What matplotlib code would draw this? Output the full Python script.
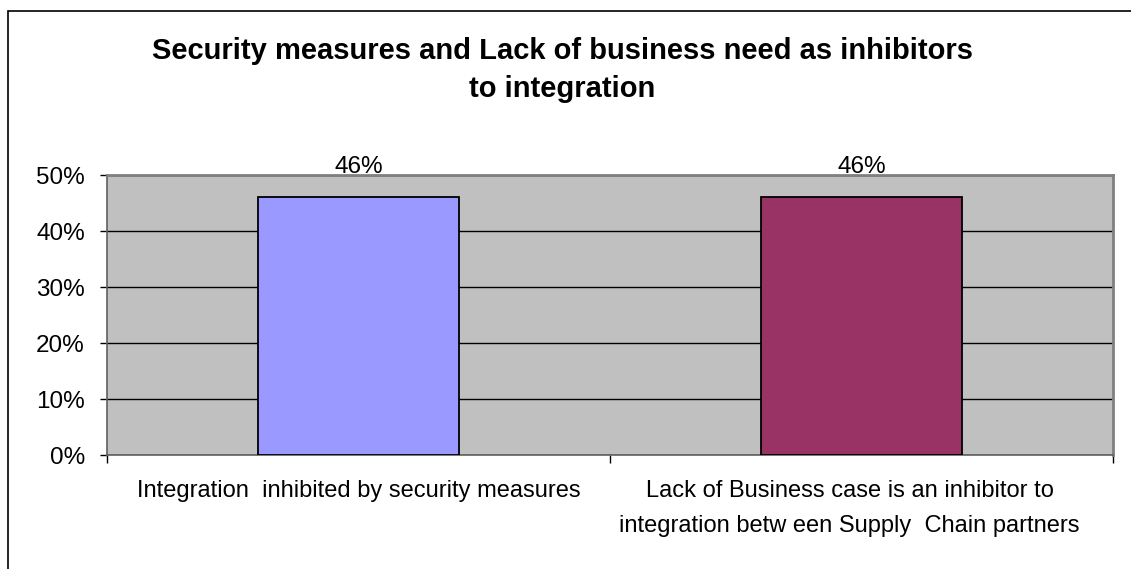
import matplotlib
matplotlib.use("Agg")
import matplotlib.pyplot as plt
from matplotlib.patches import Rectangle
from matplotlib.ticker import PercentFormatter
from matplotlib.transforms import ScaledTranslation

plt.rcParams['font.family'] = ['Liberation Sans', 'DejaVu Sans']

title = "Security measures and Lack of business need as inhibitors\nto integration"
categories = ["Integration  inhibited by security measures",
              "Lack of Business case is an inhibitor to\nintegration betw een Supply  Chain partners"]
values = [46, 46]
bar_colors = ["#9999FF", "#993366"]
yticks = [0, 10, 20, 30, 40, 50]

W, H = 1131, 569
fig = plt.figure(figsize=(W / 100, H / 100), dpi=100)
fig.patch.set_facecolor("white")

# figure border (left/top visible)
fig.add_artist(Rectangle((8 / W, -0.1), 1.2, (H - 11) / H + 0.1, transform=fig.transFigure,
                         fill=False, edgecolor="black", linewidth=1.2))

left, right, top, bottom = 107, 1113, 175, 455
ax = fig.add_axes([left / W, 1 - bottom / H, (right - left) / W, (bottom - top) / H])
ax.set_facecolor("#C0C0C0")

x = list(range(len(categories)))
ax.bar(x, values, width=0.4, color=bar_colors, edgecolor="black", linewidth=1.3, zorder=3)
for xi, v in zip(x, values):
    ax.text(xi, 51.5, f"{v}%", ha="center", va="center", fontsize=17.5, color="black",
            zorder=4, clip_on=False)

ax.set_xlim(-0.5, len(categories) - 0.5)
ax.set_ylim(0, 50)
ax.set_yticks(yticks)
ax.yaxis.set_major_formatter(PercentFormatter(decimals=0))
ax.grid(axis="y", color="black", linewidth=1, zorder=1)
ax.set_xticks(x)
ax.set_xticklabels(categories, fontsize=17, linespacing=1.75)
ax.set_xticks([-0.5, 0.5, 1.5], minor=True)
ax.tick_params(axis="x", which="major", length=0, pad=18)
ax.tick_params(axis="x", which="minor", length=6, width=1, color="black")
ax.tick_params(axis="y", length=5, width=1, labelsize=17.5, pad=11)
lbls = ax.get_xticklabels()
lbls[1].set_transform(lbls[1].get_transform() + ScaledTranslation(-0.12, 0, fig.dpi_scale_trans))
for s in ["top", "right"]:
    ax.spines[s].set_color("#808080")
    ax.spines[s].set_linewidth(2)
ax.spines["left"].set_color("#606060")
ax.spines["left"].set_linewidth(1.2)
ax.spines["bottom"].set_color("#606060")
ax.spines["bottom"].set_linewidth(1.2)

fig.text(562 / W, 1 - 70 / H, title, ha="center", va="center", fontsize=21,
         fontweight="bold", linespacing=1.45)

fig.savefig("out.png", dpi=100)
